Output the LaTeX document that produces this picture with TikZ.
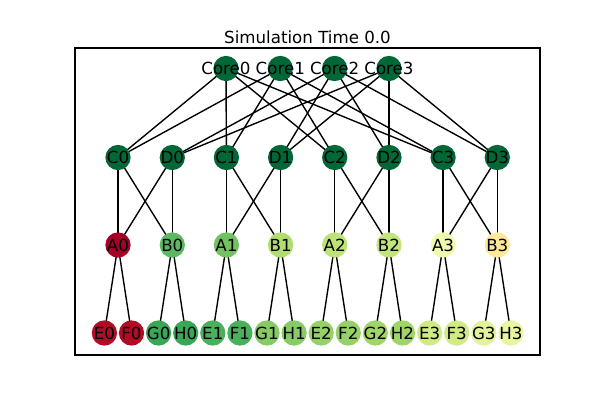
\documentclass[tikz,border=0pt]{standalone}
\usepackage{fontspec}
\setmainfont{DejaVu Sans}
\definecolor{cdg}{HTML}{006837}
\definecolor{cA0}{HTML}{A50026}
\definecolor{cB0}{HTML}{5DB961}
\definecolor{cA1}{HTML}{72C264}
\definecolor{cB1}{HTML}{B0DD70}
\definecolor{cA2}{HTML}{BCE378}
\definecolor{cB2}{HTML}{C2E47C}
\definecolor{cA3}{HTML}{F0F9AD}
\definecolor{cB3}{HTML}{FEE899}
\definecolor{cE0}{HTML}{B10B26}
\definecolor{cG0}{HTML}{3AA757}
\definecolor{cE1}{HTML}{4BB05C}
\definecolor{cG1}{HTML}{87CB67}
\definecolor{cE2}{HTML}{96D168}
\definecolor{cG2}{HTML}{A0D669}
\definecolor{cE3}{HTML}{D0EB85}
\definecolor{cG3}{HTML}{E3F399}
\definecolor{cH3}{HTML}{E9F5A2}
\tikzset{
  nd/.style={circle, inner sep=0pt, minimum size=18.2pt, draw=none},
  lbl/.style={font=\fontsize{12}{14}\selectfont, text=black, inner sep=0pt},
  edge/.style={draw=black, line width=1pt},
}
\begin{document}
\begin{tikzpicture}[x=0.72pt, y=-0.72pt]
\useasboundingbox (0,0) rectangle (600,400);
% title
\node[lbl] (title) at (307.5,37) {Simulation Time 0.0};
% coordinates
\foreach \n/\x in {Core0/226, Core1/280.3, Core2/334.6, Core3/389}
  \coordinate (\n) at (\x,68.5);
\foreach \n/\x in {C0/118, D0/172.3, C1/226.4, D1/280.6, C2/334.7, D2/389, C3/443.1, D3/497.3}
  \coordinate (\n) at (\x,157.5);
\foreach \n/\x in {A0/118, B0/172.3, A1/226.4, B1/280.6, A2/334.7, B2/389, A3/443.1, B3/497.3}
  \coordinate (\n) at (\x,245);
\foreach \n/\x in {E0/104.4, F0/131.5, G0/158.6, H0/185.7, E1/212.8, F1/239.9, G1/267, H1/294.1, E2/321.2, F2/348.3, G2/375.4, H2/402.5, E3/429.6, F3/456.7, G3/483.8, H3/510.9}
  \coordinate (\n) at (\x,333);
% edges
\foreach \c in {Core0,Core1}
  \foreach \t in {C0,C1,C2,C3}
    \draw[edge] (\c) -- (\t);
\foreach \c in {Core2,Core3}
  \foreach \t in {D0,D1,D2,D3}
    \draw[edge] (\c) -- (\t);
\foreach \i in {0,1,2,3} {
  \draw[edge] (C\i) -- (A\i);
  \draw[edge] (C\i) -- (B\i);
  \draw[edge] (D\i) -- (A\i);
  \draw[edge] (D\i) -- (B\i);
  \draw[edge] (A\i) -- (E\i);
  \draw[edge] (A\i) -- (F\i);
  \draw[edge] (B\i) -- (G\i);
  \draw[edge] (B\i) -- (H\i);
}
% nodes
\foreach \n in {Core0,Core1,Core2,Core3,C0,D0,C1,D1,C2,D2,C3,D3}
  \node[nd, fill=cdg] (n\n) at (\n) {};
\foreach \n/\c in {A0/cA0,B0/cB0,A1/cA1,B1/cB1,A2/cA2,B2/cB2,A3/cA3,B3/cB3,
  E0/cE0,F0/cE0,G0/cG0,H0/cG0,E1/cE1,F1/cE1,G1/cG1,H1/cG1,E2/cE2,F2/cE2,G2/cG2,H2/cG2,E3/cE3,F3/cE3,G3/cG3,H3/cH3}
  \node[nd, fill=\c] (n\n) at (\n) {};
% labels
\foreach \n in {Core0,Core1,Core2,Core3,C0,D0,C1,D1,C2,D2,C3,D3,A0,B0,A1,B1,A2,B2,A3,B3,E0,F0,G0,H0,E1,F1,G1,H1,E2,F2,G2,H2,E3,F3,G3,H3}
  \node[lbl] (t\n) at (\n) {\n};
% frame
\node[draw=black, line width=0.8pt, inner sep=0pt, minimum width=465*0.72pt, minimum height=307*0.72pt] (frame) at (307.5,201.5) {};
\end{tikzpicture}
\end{document}
